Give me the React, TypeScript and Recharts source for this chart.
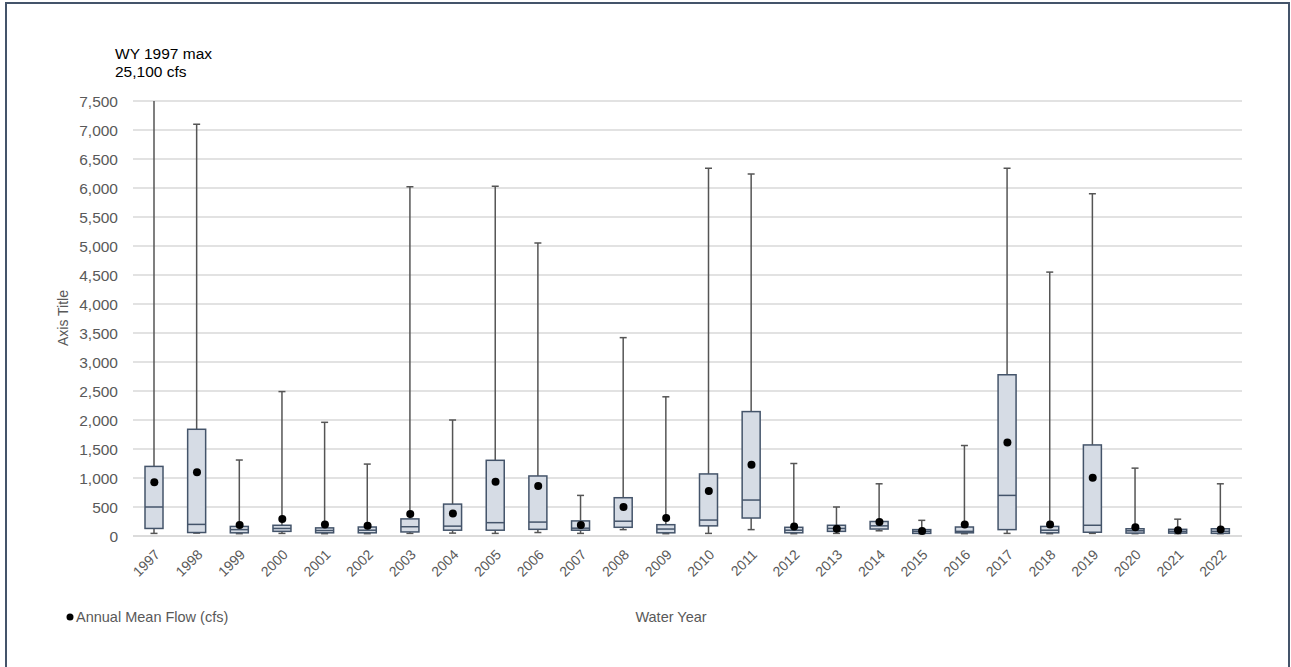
import React from "react";
import { ComposedChart, Bar, Line, XAxis, YAxis, CartesianGrid } from "recharts";

const years = ["1997","1998","1999","2000","2001","2002","2003","2004","2005","2006","2007","2008","2009","2010","2011","2012","2013","2014","2015","2016","2017","2018","2019","2020","2021","2022"];
const minFlow = [45,50,40,45,40,40,45,50,45,60,45,110,40,45,110,40,45,90,40,40,45,40,45,40,40,40];
const q1Flow = [130,60,55,80,55,55,70,100,100,115,100,150,55,175,310,55,80,120,45,55,110,55,65,50,50,45];
const medianFlow = [500,200,110,130,95,100,160,170,230,240,135,255,120,275,620,100,130,175,80,80,700,100,185,90,80,80];
const q3Flow = [1200,1840,165,185,140,155,295,550,1305,1035,260,660,195,1070,2145,150,185,250,110,155,2780,165,1570,125,115,125];
const maxFlow = [25100,7100,1310,2490,1960,1240,6020,2000,6030,5050,700,3420,2400,6340,6240,1250,500,900,270,1560,6340,4550,5900,1170,290,900];
const meanFlow = [925,1100,190,295,200,175,380,390,935,860,190,500,310,775,1230,165,125,240,85,200,1610,200,1005,150,100,110];
const yTicks = [0,500,1000,1500,2000,2500,3000,3500,4000,4500,5000,5500,6000,6500,7000,7500];

const data = years.map((year, i) => ({
  year,
  range: [minFlow[i], maxFlow[i]],
  q1: q1Flow[i],
  median: medianFlow[i],
  q3: q3Flow[i],
  mean: meanFlow[i],
}));

const FONT = '"Liberation Sans", Arial, sans-serif';
const WHISKER = "#555555";
const BOX_STROKE = "#44546a";
const BOX_FILL = "#d6dce5";

const BoxShape = (props: any) => {
  const { x, y, width, height, payload } = props;
  if (x == null || y == null) return null;
  const top = Math.min(y, y + height);
  const bottom = Math.max(y, y + height);
  const [lo, hi] = payload.range;
  const px = (v: number) => bottom - ((v - lo) / (hi - lo)) * (bottom - top);
  const cx = x + width / 2;
  const cap = 3.5;
  const yHi = px(hi), yQ3 = px(payload.q3), yMed = px(payload.median), yQ1 = px(payload.q1), yLo = px(lo);
  return (
    <g>
      <line x1={cx} x2={cx} y1={yHi} y2={yQ3} stroke={WHISKER} strokeWidth={1.5} />
      <line x1={cx - cap} x2={cx + cap} y1={yHi} y2={yHi} stroke={WHISKER} strokeWidth={1.5} />
      <line x1={cx} x2={cx} y1={yQ1} y2={yLo} stroke={WHISKER} strokeWidth={1.5} />
      <line x1={cx - cap} x2={cx + cap} y1={yLo} y2={yLo} stroke={WHISKER} strokeWidth={1.5} />
      <rect x={x} y={yQ3} width={width} height={Math.max(yQ1 - yQ3, 0.5)} fill={BOX_FILL} stroke={BOX_STROKE} strokeWidth={1.5} />
      <line x1={x} x2={x + width} y1={yMed} y2={yMed} stroke={BOX_STROKE} strokeWidth={1.5} />
    </g>
  );
};

const XTick = (props: any) => {
  const { x, y, payload } = props;
  const tx = x + 6.5;
  const ty = y + 19.5;
  return (
    <text x={tx} y={ty} transform={`rotate(-45 ${tx} ${ty})`} textAnchor="end" fill="#595959" fontSize={14} fontFamily={FONT}>
      {payload.value}
    </text>
  );
};

export default function App() {
  return (
    <div style={{ position: "fixed", left: 0, top: 0, width: 1291, height: 667, background: "#fff", overflow: "hidden", fontFamily: FONT }}>
      <div style={{ position: "absolute", left: 5, top: 2, width: 1285, height: 700, border: "2.5px solid #44546a", boxSizing: "border-box" }} />
      <ComposedChart width={1291} height={667} data={data} margin={{ top: 101, right: 49, left: 0, bottom: 0 }}>
        <CartesianGrid vertical={false} stroke="#d9d9d9" strokeWidth={1.3} />
        <XAxis dataKey="year" height={131} tickLine={false} axisLine={{ stroke: "#d9d9d9", strokeWidth: 1.3 }} tickSize={0} tickMargin={0} tick={<XTick />} interval={0} />
        <YAxis
          width={133}
          domain={[0, 7500]}
          ticks={yTicks}
          allowDataOverflow
          tickLine={false}
          axisLine={false}
          tickSize={0}
          tickMargin={15}
          tick={{ fill: "#595959", fontSize: 15.5, fontFamily: FONT }}
          tickFormatter={(v: number) => v.toLocaleString("en-US")}
        />
        <Bar dataKey="range" barSize={18} shape={<BoxShape />} isAnimationActive={false} />
        <Line dataKey="mean" stroke="none" dot={{ r: 4, fill: "#000", stroke: "none" }} activeDot={false} isAnimationActive={false} />
      </ComposedChart>
      <svg width={1291} height={667} style={{ position: "absolute", left: 0, top: 0, pointerEvents: "none" }}>
        <text x={115} y={59} fontSize={15.5} fill="#000" fontFamily={FONT}>WY 1997 max</text>
        <text x={115} y={77} fontSize={15.5} fill="#000" fontFamily={FONT}>25,100 cfs</text>
        <text x={63} y={318} transform="rotate(-90 63 318)" textAnchor="middle" dominantBaseline="central" fontSize={14} fill="#595959" fontFamily={FONT}>Axis Title</text>
        <circle cx={70} cy={617} r={3.5} fill="#000" />
        <text x={76} y={617} dominantBaseline="central" fontSize={14.5} fill="#595959" fontFamily={FONT}>Annual Mean Flow (cfs)</text>
        <text x={671} y={617} textAnchor="middle" dominantBaseline="central" fontSize={14.5} fill="#595959" fontFamily={FONT}>Water Year</text>
      </svg>
    </div>
  );
}
